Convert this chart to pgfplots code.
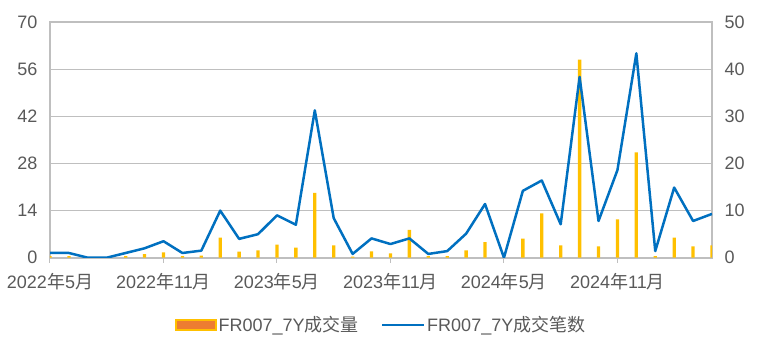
\documentclass[border=0pt]{standalone}
\usepackage{fontspec}
\setmainfont{Liberation Sans}
\newfontfamily\cjk{Noto Sans CJK SC}
\usepackage{pgfplots}
\usepackage{pgfplotstable}
\pgfplotsset{compat=1.18}
\definecolor{barY}{HTML}{FFC000}
\definecolor{barO}{HTML}{ED7D31}
\definecolor{lineB}{HTML}{0070C0}
\definecolor{gridG}{HTML}{BFBFBF}
\definecolor{txt}{HTML}{595959}

\pgfplotstableread{
m b c
0 0.5 1
1 0.5 1
2 nan 0
3 nan 0
4 0.5 1
5 1.1 2
6 1.6 3.5
7 0.5 1
8 0.6 1.5
9 6 10
10 1.8 4
11 2.2 5
12 3.9 9
13 3 7
14 19.3 31.3
15 3.7 8.4
16 0.3 0.8
17 1.9 4.1
18 1.3 2.9
19 8.3 4.1
20 0.5 0.8
21 0.5 1.4
22 2.2 5.1
23 4.6 11.4
24 nan 0
25 5.7 14.2
26 13.2 16.4
27 3.7 7.1
28 58.9 38.4
29 3.4 7.8
30 11.4 18.6
31 31.3 43.4
32 0.5 1.4
33 6 14.9
34 3.4 7.8
35 3.7 9.3
}\data

\begin{document}
\begin{tikzpicture}
\pgfplotsset{
  every axis/.append style={
    scale only axis, width=662bp, height=235.4bp,
    xmin=0, xmax=35,
    /pgf/number format/assume math mode=true,
    tick label style={font=\fontsize{18bp}{21bp}\selectfont, text=txt},
  },
}
\begin{axis}[
  name=ax1,
  ymin=0, ymax=70, ytick={0,14,...,70},
  ymajorgrids, grid style={gridG, line width=1.5bp},
  axis line style={gridG, line width=2bp},
  xtick={0,6,...,30},
  xticklabels={2022{\cjk 年}5{\cjk 月}, 2022{\cjk 年}11{\cjk 月}, 2023{\cjk 年}5{\cjk 月}, 2023{\cjk 年}11{\cjk 月}, 2024{\cjk 年}5{\cjk 月}, 2024{\cjk 年}11{\cjk 月}},
  xtick pos=lower, xtick align=outside,
  xtick style={gridG, line width=1bp},
  major tick length=5bp,
  xticklabel style={yshift=-7bp},
  ytick pos=left, ytick style={draw=none},
  yticklabel style={xshift=-9bp},
]
\addplot[ybar, bar width=3.3bp, fill=barY, draw=none] table[x=m, y=b] {\data};
\end{axis}
\begin{axis}[
  ymin=0, ymax=50, ytick={0,10,...,50},
  axis x line=none, axis y line*=right,
  y axis line style={draw=none},
  ytick style={draw=none},
  yticklabel style={xshift=9bp},
  legend style={draw=none, fill=none, at={(0.5,-0.285)}, anchor=center,
    legend columns=2, font=\fontsize{18bp}{21bp}\selectfont, text=txt,
    /tikz/every even column/.append style={column sep=20bp}},
  legend cell align=left,
]
\addlegendimage{legend image code/.code={\draw[fill=barO, draw=barY, line width=2bp] (0bp,-5bp) rectangle (40bp,5bp);}}
\addlegendentry{FR007\_7Y{\cjk 成交量}}
\addplot[lineB, line width=2.5bp, line join=round, no markers,
  legend image code/.code={\draw[lineB, line width=2.5bp] (0bp,0bp) -- (42bp,0bp);}] table[x=m, y=c] {\data};
\addlegendentry{FR007\_7Y{\cjk 成交笔数}}
\end{axis}
\pgfresetboundingbox
\path[use as bounding box] ([shift={(-50bp,-97.3bp)}]ax1.south west) rectangle ([shift={(56bp,22.3bp)}]ax1.north east);
\end{tikzpicture}
\end{document}
